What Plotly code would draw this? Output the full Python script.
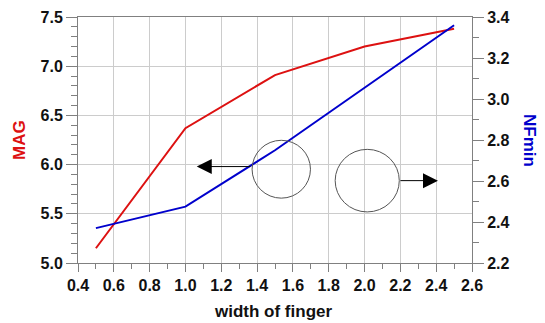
import plotly.graph_objects as go

width = [0.5, 1.0, 1.5, 2.0, 2.5]
mag = [5.15, 6.37, 6.91, 7.20, 7.38]
nfmin = [2.37, 2.475, 2.75, 3.055, 3.36]

RED = "#dd1111"
BLUE = "#0000cc"
AX = "#808080"
GRID = "#cccccc"
FONT = "Liberation Sans"

L, R, T, B = 78, 73, 17, 60
W, H = 545, 323
PW = W - L - R
PH = H - T - B

def px(xp):
    return (xp - L) / PW

def py(yp):
    return (H - B - yp) / PH

fig = go.Figure()
fig.add_trace(go.Scatter(x=width, y=mag, mode="lines", line=dict(color=RED, width=2), yaxis="y"))
fig.add_trace(go.Scatter(x=width, y=nfmin, mode="lines", line=dict(color=BLUE, width=2), yaxis="y2"))

# circles marking which curve goes to which axis
fig.add_shape(type="circle", xref="x", yref="y", x0=1.535 - 0.163, x1=1.535 + 0.163,
              y0=5.953 - 0.294, y1=5.953 + 0.294, line=dict(color="#555555", width=1))
fig.add_shape(type="circle", xref="x", yref="y", x0=2.015 - 0.179, x1=2.015 + 0.179,
              y0=5.837 - 0.318, y1=5.837 + 0.318, line=dict(color="#555555", width=1))

fig.add_annotation(x=1.063, y=5.98, ax=1.371, ay=5.98, xref="x", yref="y", axref="x", ayref="y",
                   text="", showarrow=True, arrowhead=2, arrowsize=3.0, arrowwidth=1, arrowcolor="black")
fig.add_annotation(x=2.41, y=5.837, ax=2.192, ay=5.837, xref="x", yref="y", axref="x", ayref="y",
                   text="", showarrow=True, arrowhead=2, arrowsize=3.0, arrowwidth=1, arrowcolor="black")

titlefont = dict(family=FONT, size=17, weight="bold")
fig.add_annotation(x=px(273), y=py(311), xref="paper", yref="paper", text="width of finger",
                   showarrow=False, font=dict(color="#111111", **titlefont), xanchor="center", yanchor="middle")
fig.add_annotation(x=px(19), y=py(140), xref="paper", yref="paper", text="MAG", textangle=-90,
                   showarrow=False, font=dict(color=RED, **titlefont), xanchor="center", yanchor="middle")
fig.add_annotation(x=px(530), y=py(140), xref="paper", yref="paper", text="NFmin", textangle=90,
                   showarrow=False, font=dict(color=BLUE, **titlefont), xanchor="center", yanchor="middle")

tickfont = dict(family=FONT, size=16, color="#111111", weight="bold")

fig.update_layout(
    width=W, height=H,
    margin=dict(l=L, r=R, t=T, b=B, autoexpand=False),
    paper_bgcolor="white", plot_bgcolor="white",
    showlegend=False,
    font=dict(family=FONT),
    xaxis=dict(range=[0.4, 2.6], dtick=0.2, tick0=0.4, tickformat=".1f", automargin=False,
               showgrid=True, gridcolor=GRID, gridwidth=1, zeroline=False,
               showline=True, linecolor=AX, linewidth=1, mirror=True,
               ticks="outside", ticklen=8, tickcolor=AX,
               minor=dict(dtick=0.1, ticks="outside", ticklen=5, tickcolor=AX, showgrid=False),
               tickfont=tickfont),
    yaxis=dict(range=[5.0, 7.5], dtick=0.5, tick0=5.0, tickformat=".1f", automargin=False,
               showgrid=True, gridcolor=GRID, gridwidth=1, zeroline=False,
               showline=True, linecolor=AX, linewidth=1,
               ticks="outside", ticklen=11, tickcolor=AX,
               minor=dict(dtick=0.1, ticks="outside", ticklen=6, tickcolor=AX, showgrid=False),
               tickfont=tickfont),
    yaxis2=dict(range=[2.2, 3.4], dtick=0.2, tick0=2.2, tickformat=".1f", overlaying="y", side="right",
                automargin=False, showgrid=False, zeroline=False,
                showline=True, linecolor=AX, linewidth=1,
                ticks="outside", ticklen=11, tickcolor=AX,
                minor=dict(dtick=0.1, ticks="outside", ticklen=6, tickcolor=AX, showgrid=False),
                tickfont=tickfont),
)

fig.write_html("out.html", config={"displayModeBar": False},
               post_script="document.body.style.margin='0';")
